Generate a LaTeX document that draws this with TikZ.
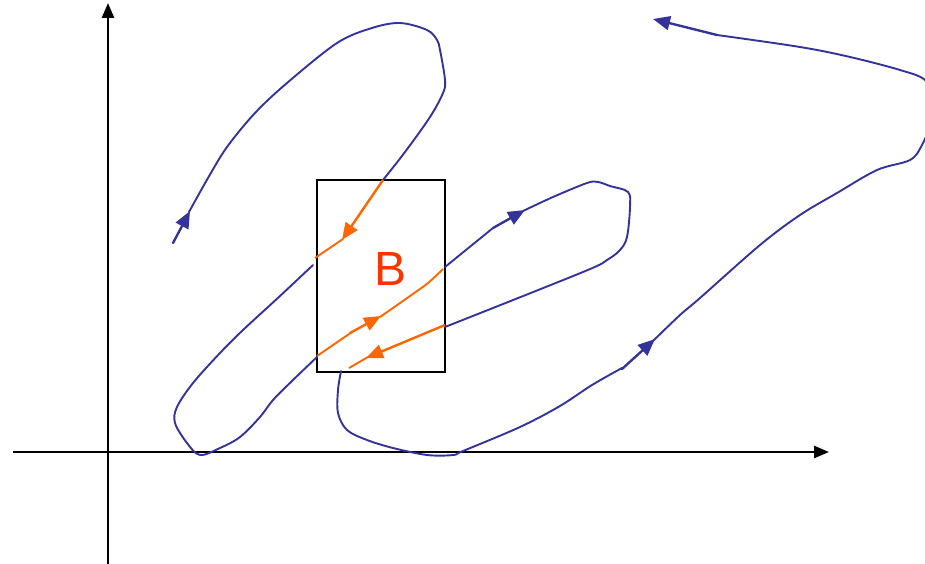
\documentclass[tikz,border=0pt]{standalone}
\usepackage{fontspec}
\setmainfont{Liberation Sans}
\usetikzlibrary{arrows.meta}
\definecolor{trajblue}{RGB}{51,51,153}
\definecolor{setorange}{RGB}{255,102,0}
\definecolor{labelred}{RGB}{255,51,0}
\tikzset{
  axis/.style={line width=2.6pt, -{Triangle[length=15pt, width=12pt]}},
  traj/.style={line width=1.9pt, color=trajblue, line cap=round},
  trajarrow/.style={traj, line width=2.4pt, -{Triangle[length=17pt, width=14pt]}},
  inside/.style={line width=1.9pt, color=setorange},
  insidearrow/.style={inside, line width=2.4pt, -{Triangle[length=17pt, width=14pt]}},
  setbox/.style={rectangle, draw, line width=2pt, minimum width=128pt,
    minimum height=192pt, inner sep=0pt},
  setlabel/.style={text=labelred, font=\fontsize{48}{48}\selectfont},
}
\begin{document}
\begin{tikzpicture}[x=1pt, y=-1pt]
  \useasboundingbox (0,0) rectangle (925,564);
  \clip (0,0) rectangle (925,564);

  \coordinate (xfrom) at (13,452);
  \coordinate (xto)   at (829,452);
  \coordinate (yfrom) at (108,564);
  \coordinate (yto)   at (108,3);
  \draw[axis] (xfrom) -- (xto);
  \draw[axis] (yfrom) -- (yto);

  \node[setbox] (box) at (381,276) {};
  \node[setlabel] (Blabel) at (391,269) {B};

  % first loop, into the box from the top
  \draw[trajarrow] (173,243) -- (190,211);
  \draw[traj] plot[smooth, tension=0.55] coordinates {(189,212) (208,178)
    (227,147) (255,113) (287,83) (337,43) (372,28) (400,23) (427,30) (437,40)
    (440,50) (445,80) (443,93) (430,117) (405,152) (383,180)};
  \draw[insidearrow] (383,180) -- (342,240);
  \draw[inside] (343,239) -- (315,258);

  % second loop, back in from the lower left
  \draw[traj] plot[smooth, tension=0.55] coordinates {(313,265) (280,296)
    (243,330) (220,353) (193,383) (177,407) (175,423) (187,443) (200,455)
    (220,448) (240,437) (260,417) (273,400) (293,380) (317,357)};
  \draw[inside] (317,356) -- (352,332);
  \draw[insidearrow] (350,333) -- (381,316);
  \draw[inside] plot[smooth] coordinates {(380,317) (410,296) (428,283) (443,269)};

  % third loop to the right
  \draw[traj] (445,267) -- (493,228);
  \draw[trajarrow] (493,228) -- (525,210);
  \draw[traj] plot[smooth, tension=0.55] coordinates {(523,211) (553,197)
    (587,183) (598,182) (610,186) (628,192) (630,207) (627,237) (620,250)
    (607,260) (583,272) (445,327)};
  \draw[insidearrow] (445,325) -- (366,358);
  \draw[inside] (368,357) -- (349,368);

  % last run, out of the box and away
  \draw[traj] plot[smooth, tension=0.55] coordinates {(341,371) (338,390)
    (338,413) (347,430) (367,440) (393,448) (427,455) (453,455) (463,451)
    (520,427) (560,406) (592,385) (622,368)};
  \draw[trajarrow] (622,369) -- (655,339);
  \draw[traj] plot[smooth, tension=0.55] coordinates {(653,341) (680,315)
    (700,298) (760,245) (800,215) (837,193) (877,170) (910,160) (922,145)
    (932,120) (935,100) (925,80) (900,70) (850,57) (800,47) (717,35)};
  \draw[trajarrow] (717,35) -- (653,19);
\end{tikzpicture}
\end{document}
